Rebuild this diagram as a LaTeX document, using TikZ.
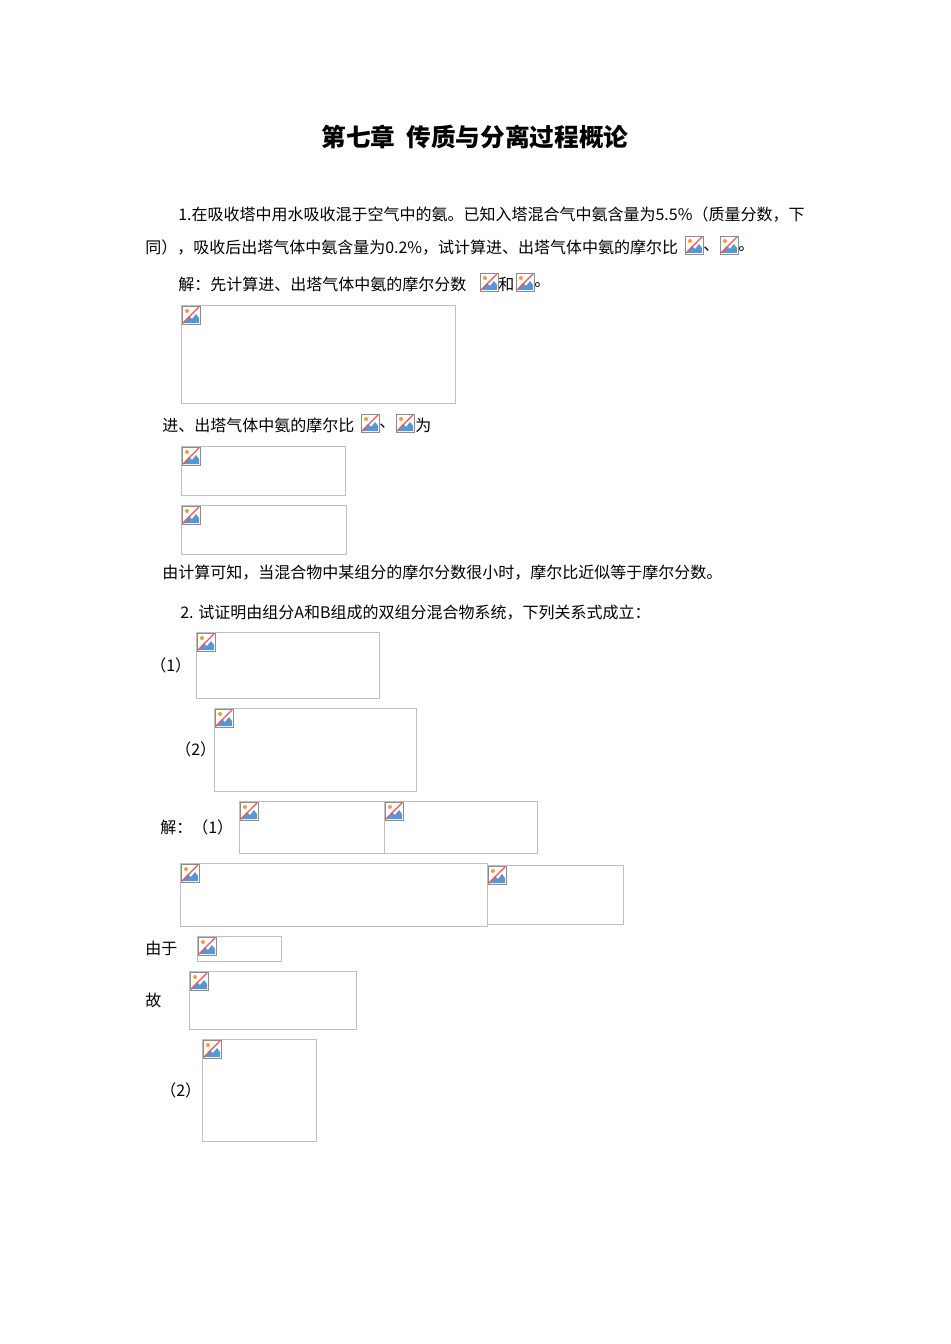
\documentclass[tikz,border=0pt]{standalone}
\usepackage{fontspec}
\setmainfont{Liberation Serif}
\newfontfamily\cjk{Noto Sans CJK SC}
\begin{document}
\begin{tikzpicture}[x=0.75pt,y=-0.75pt,
  txt/.style={anchor=west,inner sep=0pt,font=\cjk\fontsize{12pt}{14pt}\selectfont},
  frame/.style={draw=black!25,line width=0.6pt},
  pics/ic/.style={code={
    \fill[white] (0,0) rectangle (18,18);
    \draw[black!45,line width=0.5pt] (0,0) rectangle (18,18);
    \fill[cyan!60!blue!70] (1,17) -- (7,10) -- (10,13) -- (14,8) -- (17,12) -- (17,17) -- cycle;
    \fill[orange!80] (5,5) circle (2);
    \draw[red!70,line width=0.9pt] (1,17) -- (17,1);
  }}]
\useasboundingbox (0,0) rectangle (950,1344);
\fill[white] (0,0) rectangle (950,1344);
\node[inner sep=0pt,font=\cjk\bfseries\fontsize{18.5pt}{20pt}\selectfont] (title) at (475,137) {第七章\ \ 传质与分离过程概论};
\node[txt] (l1) at (178,215) {1.在吸收塔中用水吸收混于空气中的氨。已知入塔混合气中氨含量为5.5\%（质量分数，下};
\node[txt] (l2) at (145,248) {同），吸收后出塔气体中氨含量为0.2\%，试计算进、出塔气体中氨的摩尔比};
\pic at (685,236) {ic}; \node[txt] (d1) at (703,249) {、}; \pic at (720,236) {ic}; \node[txt] (d2) at (738,249) {。};
\node[txt] (l3) at (178,284) {解：先计算进、出塔气体中氨的摩尔分数};
\pic at (480,273) {ic}; \node[txt] (he) at (498,284) {和}; \pic at (516,273) {ic}; \node[txt] (d3) at (534,285) {。};
\draw[frame] (181,305) rectangle (455,403); \pic at (182,306) {ic};
\node[txt] (l4) at (162,425) {进、出塔气体中氨的摩尔比};
\pic at (361,414) {ic}; \node[txt] (d4) at (379,426) {、}; \pic at (396,414) {ic}; \node[txt] (wei) at (415,425) {为};
\draw[frame] (181,446) rectangle (345,495); \pic at (182,447) {ic};
\draw[frame] (181,505) rectangle (346,554); \pic at (182,506) {ic};
\node[txt] (l5) at (162,573) {由计算可知，当混合物中某组分的摩尔分数很小时，摩尔比近似等于摩尔分数。};
\node[txt] (l6) at (180,613) {2. 试证明由组分A和B组成的双组分混合物系统，下列关系式成立：};
\node[txt] (p1) at (150,665) {（1）};
\draw[frame] (196,632) rectangle (379,698); \pic at (197,633) {ic};
\node[txt] (p2) at (175,749) {（2）};
\draw[frame] (214,708) rectangle (416,791); \pic at (215,709) {ic};
\node[txt] (s1) at (160,827) {解：（1）};
\draw[frame] (239,801) rectangle (384,853); \pic at (240,802) {ic};
\draw[frame] (384,801) rectangle (537,853); \pic at (385,802) {ic};
\draw[frame] (180,863) rectangle (487,926); \pic at (181,864) {ic};
\draw[frame] (487,865) rectangle (623,924); \pic at (488,866) {ic};
\node[txt] (yy) at (145,948) {由于};
\draw[frame] (197,936) rectangle (281,961); \pic at (198,937) {ic};
\node[txt] (gu) at (145,1000) {故};
\draw[frame] (189,971) rectangle (356,1029); \pic at (190,972) {ic};
\node[txt] (s2) at (160,1090) {（2）};
\draw[frame] (202,1039) rectangle (316,1141); \pic at (203,1040) {ic};
\end{tikzpicture}
\end{document}
